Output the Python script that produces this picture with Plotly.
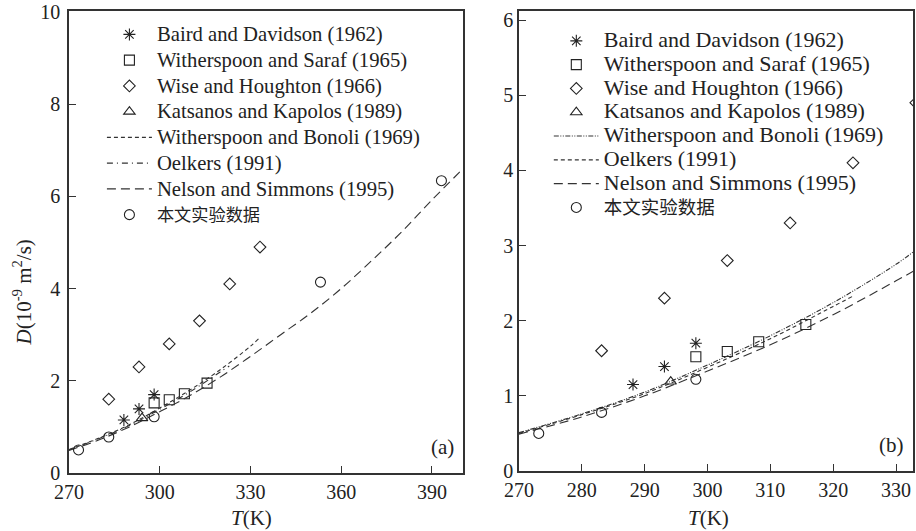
import plotly.graph_objects as go

# ---------------- data ----------------
T_baird = [288.15, 293.15, 298.15]
D_baird = [1.15, 1.39, 1.70]
T_saraf = [298.15, 303.15, 308.15, 315.65]
D_saraf = [1.52, 1.59, 1.72, 1.95]
T_wise = [283.15, 293.15, 303.15, 313.15, 323.15, 333.15]
D_wise = [1.60, 2.30, 2.80, 3.30, 4.10, 4.90]
T_kats = [294.15]
D_kats = [1.19]
T_this = [273.15, 283.15, 298.15, 353.15, 393.15]
D_this = [0.50, 0.78, 1.22, 4.14, 6.34]

T_wb = [270, 280, 290, 300, 310, 320, 330, 333.3]
D_wb = [0.51, 0.76, 1.05, 1.41, 1.80, 2.24, 2.75, 2.95]
T_oel = [270, 280, 290, 300, 310, 320, 323]
D_oel = [0.50, 0.75, 1.03, 1.38, 1.76, 2.19, 2.32]
T_ns = [270, 280, 290, 300, 310, 320, 330, 340, 350, 360, 370, 380, 390, 400]
D_ns = [0.49, 0.72, 1.00, 1.33, 1.68, 2.08, 2.53, 3.00, 3.47, 4.00, 4.60, 5.23, 5.92, 6.58]

names = ["Baird and Davidson (1962)", "Witherspoon and Saraf (1965)",
         "Wise and Houghton (1966)", "Katsanos and Kapolos (1989)",
         "Witherspoon and Bonoli (1969)", "Oelkers (1991)",
         "Nelson and Simmons (1995)", "本文实验数据"]

xticks_a = [270, 300, 330, 360, 390]
yticks_a = [0, 2, 4, 6, 8, 10]
xticks_b = [270, 280, 290, 300, 310, 320, 330]
yticks_b = [0, 1, 2, 3, 4, 5, 6]

INK = "#222222"
LINE = "#333333"
SERIF = "Liberation Serif, Times New Roman, serif"
CJK = "Noto Sans CJK SC"


def lab(s, size):
    if s == "本文实验数据":
        return f'<span style="font-family:{CJK};font-size:{size - 3.5}px">{s}</span>'
    return f'<span style="font-size:{size}px">{s}</span>'


fig = go.Figure()


def add_panel(xa, ya, leg, styles, fsize):
    mk = dict(color=INK, line=dict(color=INK, width=1.1))
    pts = [
        (T_baird, D_baird, "asterisk-open", 10),
        (T_saraf, D_saraf, "square-open", 10),
        (T_wise, D_wise, "diamond-open", 9),
        (T_kats, D_kats, "triangle-up-open", 10),
    ]
    for i, (x, y, sym, sz) in enumerate(pts):
        fig.add_trace(go.Scatter(
            x=x, y=y, mode="markers", name=lab(names[i], fsize),
            marker=dict(symbol=sym, size=sz, **mk),
            xaxis=xa, yaxis=ya, legend=leg, legendgroup=leg + str(i)))
    curves = [(T_wb, D_wb), (T_oel, D_oel), (T_ns, D_ns)]
    for j, (x, y) in enumerate(curves):
        fig.add_trace(go.Scatter(
            x=x, y=y, mode="lines", name=lab(names[4 + j], fsize),
            line=dict(color=LINE, width=1.1, dash=styles[j], shape="spline"),
            xaxis=xa, yaxis=ya, legend=leg, legendgroup=leg + str(4 + j)))
    fig.add_trace(go.Scatter(
        x=T_this, y=D_this, mode="markers", name=lab(names[7], fsize),
        marker=dict(symbol="circle-open", size=10, **mk),
        xaxis=xa, yaxis=ya, legend=leg, legendgroup=leg + "7"))


add_panel("x", "y", "legend",
          ["4px,3px", "6px,4px,1px,4px", "9px,5px"], 20.7)
add_panel("x2", "y2", "legend2",
          ["5px,1.5px,1px,1.5px,1px,1.5px", "4px,3px", "9px,5px"], 22)

axis_common = dict(showline=True, linecolor="#333", linewidth=1.5, mirror=True,
                   ticks="inside", ticklen=7, tickwidth=1.2, tickcolor="#333",
                   showgrid=False, zeroline=False, ticklabeloverflow="allow",
                   tickfont=dict(family=SERIF, size=20, color=INK))

fig.update_layout(
    width=916, height=531,
    margin=dict(l=69, r=1, t=10, b=58),
    plot_bgcolor="white", paper_bgcolor="white",
    showlegend=True,
    xaxis=dict(domain=[0, 0.4669], range=[270, 400.3], tickvals=xticks_a,
               anchor="y", **axis_common),
    yaxis=dict(domain=[0, 1], range=[0, 10.02], tickvals=yticks_a,
               anchor="x", ticklabelstandoff=3, **axis_common),
    xaxis2=dict(domain=[0.5331, 1], range=[270, 332.7], tickvals=xticks_b,
                anchor="y2", **axis_common),
    yaxis2=dict(domain=[0.0043, 1], range=[0, 6.12], tickvals=yticks_b,
                anchor="x2", **axis_common),
    legend=dict(x=0.039, y=0.988, xanchor="left", yanchor="top",
                bgcolor="rgba(0,0,0,0)", font=dict(family=SERIF, size=17.5, color=INK),
                itemwidth=45, traceorder="normal", tracegroupgap=0),
    legend2=dict(x=0.5685, y=0.972, xanchor="left", yanchor="top",
                 bgcolor="rgba(0,0,0,0)", font=dict(family=SERIF, size=16, color=INK),
                 itemwidth=45, traceorder="normal", tracegroupgap=0),
    font=dict(family=SERIF, color=INK),
)

ann = [
    dict(text="(a)", x=443, y=447),
    dict(text="(b)", x=893, y=445),
    dict(text="<i>T</i>(K)", x=252, y=518),
    dict(text="<i>T</i>(K)", x=710, y=518),
]
annotations = []
for a in ann:
    annotations.append(dict(text=a["text"], xref="paper", yref="paper",
                            x=(a["x"] - 69) / 846, y=1 - (a["y"] - 10) / 463,
                            xanchor="center", yanchor="middle", showarrow=False,
                            font=dict(family=SERIF, size=21, color=INK)))
annotations.append(dict(text="<i>D</i>(10<sup>-9</sup> m<sup>2</sup>/s)",
                        xref="paper", yref="paper", x=(22 - 69) / 846,
                        y=1 - (292 - 10) / 463, textangle=-90,
                        xanchor="center", yanchor="middle", showarrow=False,
                        font=dict(family=SERIF, size=21, color=INK)))
fig.update_layout(annotations=annotations)

fig.write_html("out.html",
               config={"displayModeBar": False},
               post_script="document.body.style.margin='0';"
                           "document.body.style.overflow='hidden';")
